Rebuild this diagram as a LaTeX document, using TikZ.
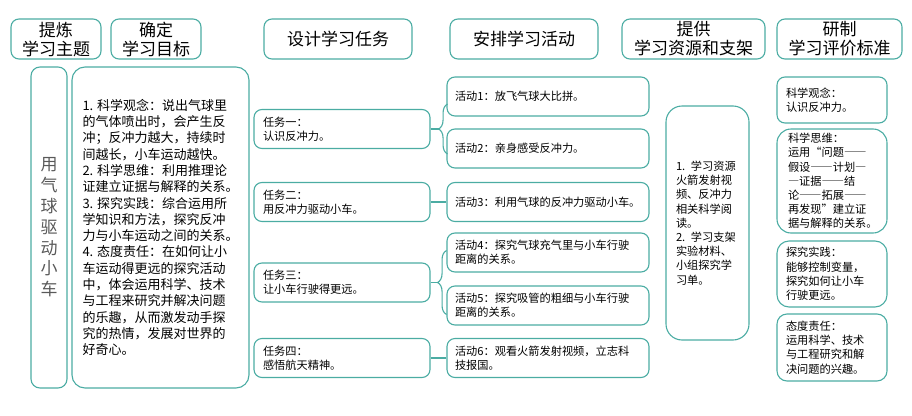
\documentclass[tikz,border=0pt]{standalone}
\usepackage{fontspec}
\setmainfont{Noto Sans CJK SC}
\newfontfamily\fullw[CharacterWidth=Full]{Noto Sans CJK SC}
\usetikzlibrary{calc,decorations.pathreplacing}
\definecolor{frame}{RGB}{75,172,163}
\definecolor{topicgray}{RGB}{89,89,89}

\begin{document}
\begin{tikzpicture}[
            x=1pt, y=-1pt,
            head/.style={
                draw=frame,
                line width=1.1pt,
                rounded corners=8pt,
                align=center,
                inner sep=0pt,
                minimum height=40pt,
                font=\fontsize{17}{19}\selectfont
            },
            card/.style={
                draw=frame,
                line width=1.1pt,
                rounded corners=8pt,
                align=left,
                inner xsep=9pt,
                inner ysep=2pt,
                font=\fontsize{11.2}{14.2}\selectfont
            },
            link/.style={
                frame,
                line width=1.1pt
            },
            curly/.style={
                frame,
                line width=1.1pt,
                decorate,
                decoration={brace, amplitude=9pt}
            }
        ]

% Canvas
            \useasboundingbox (0,0) rectangle (912,415);

% Column x positions
            \def\xTask{342}
            \def\xAct{548}
            \def\xEval{832}
            \def\yHead{39}

% --- Column headers ---
            \node[head, minimum width=90pt]  (h1) at (56,\yHead)    {提炼\\学习主题};
            \node[head, minimum width=90pt]  (h2) at (156,\yHead)   {确定\\学习目标};
            \node[head, minimum width=148pt] (h3) at (338,\yHead)   {设计学习任务};
            \node[head, minimum width=148pt] (h4) at (524,\yHead)   {安排学习活动};
            \node[head, minimum width=143pt] (h5) at (693.5,\yHead) {提供\\学习资源和支架};
            \node[head, minimum width=125pt] (h6) at (839.5,\yHead) {研制\\学习评价标准};

% Theme and goals
            \node[card, inner sep=0pt, rounded corners=9pt, align=center,
                  minimum width=36pt, minimum height=321pt, text=topicgray,
                  font=\fontsize{17}{20.8}\selectfont]
                (topic) at (49,227.5) {用\\气\\球\\驱\\动\\小\\车};

            \node[card, rounded corners=13pt, inner xsep=10pt,
                  minimum width=177pt, minimum height=321pt,
                  font=\fontsize{13}{16.3}\selectfont]
                (goals) at (160.5,227.5) {1. 科学观念：说出气球里\\的气体喷出时，会产生反\\冲；反冲力越大，持续时\\间越长，小车运动越快。\\2. 科学思维：利用推理论\\证建立证据与解释的关系。\\3. 探究实践：综合运用所\\学知识和方法，探究反冲\\力与小车运动之间的关系。\\4. 态度责任：在如何让小\\车运动得更远的探究活动\\中，体会运用科学、技术\\与工程来研究并解决问题\\的乐趣，从而激发动手探\\究的热情，发展对世界的\\好奇心。};

% Tasks t1..t4
            \foreach \i/\y/\txt in {1/129/{任务一：\\认识反冲力。},
                                    2/202/{任务二：\\用反冲力驱动小车。},
                                    3/282.5/{任务三：\\让小车行驶得更远。},
                                    4/358/{任务四：\\感悟航天精神。}} {
                \node[card, text width=158pt, minimum height=39pt] (t\i) at (\xTask,\y) {\txt};
            }

% Activities a1..a6
            \foreach \i/\y/\txt in {1/96.5/{活动1：放飞气球大比拼。},
                                    2/148.5/{活动2：亲身感受反冲力。},
                                    3/202/{活动3：利用气球的反冲力驱动小车。},
                                    4/252.5/{活动4：探究气球充气里与小车行驶\\距离的关系。},
                                    5/305.5/{活动5：探究吸管的粗细与小车行驶\\距离的关系。},
                                    6/358/{活动6：观看火箭发射视频，立志科\\技报国。}} {
                \node[card, inner xsep=8pt, text width=186pt, minimum height=39pt] (a\i) at (\xAct,\y) {\txt};
            }

% Resources
            \node[card, rounded corners=16pt, inner xsep=10pt, text width=63pt,
                  minimum height=234pt]
                (res) at (707.5,223) {1. 学习资源\\火箭发射视\\频、反冲力\\相关科学阅\\读。\\2. 学习支架\\实验材料、\\小组探究学\\习单。};

% Evaluation standards
            \node[card, text width=92pt, minimum height=46pt] (e1) at (\xEval,100)
                {科学观念：\\认识反冲力。};
            \node[card, rounded corners=14pt, inner xsep=11pt, text width=88pt, minimum height=104pt,
                  font=\fullw\fontsize{11.2}{14.2}\selectfont] (e2) at (\xEval,181)
                {科学思维：\\运用“问题——\\假设——计划—\\—证据——结\\论——拓展——\\再发现”建立证\\据与解释的关系。};
            \node[card, rounded corners=12pt, text width=92pt, minimum height=66pt] (e3) at (\xEval,274)
                {探究实践：\\能够控制变量，\\探究如何让小车\\行驶更远。};
            \node[card, rounded corners=10pt, text width=92pt, minimum height=67pt] (e4) at (\xEval,347.5)
                {态度责任：\\运用科学、技术\\与工程研究和解\\决问题的兴趣。};

% Task -> activity links
            \coordinate (b1) at ($(t1.east)+(8,0)$);
            \coordinate (b3) at ($(t3.east)+(8,0)$);
            \draw[curly] ($(t1.east)+(17,25)$) -- ($(t1.east)+(17,-25)$);
            \draw[link] (t1.east) -- (b1);
            \draw[link] (t2.east) -- (a3.west);
            \draw[curly] ($(t3.east)+(16,32)$) -- ($(t3.east)+(16,-32)$);
            \draw[link] (t3.east) -- (b3);
            \draw[link] (t4.east) -- (a6.west);

        \end{tikzpicture}
\end{document}
